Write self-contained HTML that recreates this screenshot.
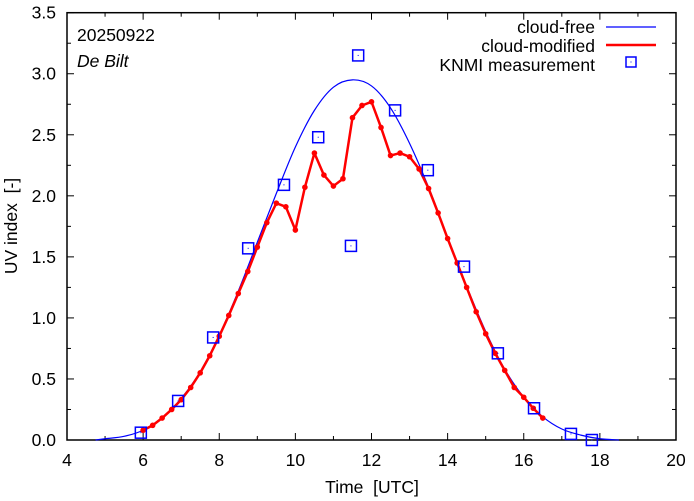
<!DOCTYPE html>
<html><head><meta charset="utf-8"><style>
html,body{margin:0;padding:0;background:#fff;}
svg{display:block;font-family:"Liberation Sans",sans-serif;}
text{white-space:pre;}
</style></head><body>
<svg id="chart" width="694" height="501">
<g id="axes"></g>
<g id="series"></g>
<text x="77" y="41" font-size="17.5">20250922</text>
<text x="77" y="67" font-size="17.5" font-style="italic">De Bilt</text>
<text x="372" y="493" font-size="17.5" text-anchor="middle">Time  [UTC]</text>
<text transform="translate(17,226) rotate(-90)" font-size="17.5" text-anchor="middle">UV index  [-]</text>
<g>
<text x="595" y="33" font-size="17.5" text-anchor="end">cloud-free</text>
<line x1="606" y1="27" x2="656" y2="27" stroke="#0000ff" stroke-width="1.2"/>
<text x="595" y="52" font-size="17.5" text-anchor="end">cloud-modified</text>
<line x1="606" y1="45" x2="656" y2="45" stroke="#ff0000" stroke-width="2.5"/>
<text x="595" y="71" font-size="17.5" text-anchor="end">KNMI measurement</text>
<rect x="626" y="57" width="10" height="10" fill="none" stroke="#0000ff" stroke-width="1.5"/>
<rect x="630.5" y="61.5" width="1" height="1" fill="#0000ff"/>
</g>
</svg>
<script>
const xTicks=[4,6,8,10,12,14,16,18,20];
const yTicks=[0.0,0.5,1.0,1.5,2.0,2.5,3.0,3.5];
const clearT=[4.75,5,5.5,6,6.5,7,7.5,8,8.5,9,9.5,10,10.5,11,11.5,12,12.5,13,13.5,14,14.5,15,15.5,16,16.5,17,17.5,18,18.5];
const clearUV=[0,0.01,0.03,0.08,0.18,0.34,0.56,0.86,1.22,1.62,2.02,2.4,2.7,2.89,2.95,2.9,2.72,2.43,2.07,1.66,1.26,0.89,0.58,0.35,0.19,0.09,0.04,0.01,0.0];
const cloudT=[6,6.25,6.5,6.75,7,7.25,7.5,7.75,8,8.25,8.5,8.75,9,9.25,9.5,9.75,10,10.25,10.5,10.75,11,11.25,11.5,11.75,12,12.25,12.5,12.75,13,13.25,13.5,13.75,14,14.25,14.5,14.75,15,15.25,15.5,15.75,16,16.25,16.5];
const cloudUV=[0.08,0.12,0.18,0.25,0.33,0.43,0.55,0.69,0.85,1.02,1.2,1.38,1.58,1.78,1.94,1.91,1.72,2.07,2.35,2.17,2.08,2.14,2.64,2.74,2.77,2.56,2.33,2.35,2.32,2.22,2.06,1.86,1.65,1.45,1.25,1.05,0.87,0.71,0.57,0.43,0.35,0.26,0.18];
const measT=[5.94,6.92,7.84,8.76,9.70,10.6,11.65,11.46,12.62,13.48,14.43,15.32,16.27,17.24,17.79];
const measUV=[0.06,0.32,0.84,1.57,2.09,2.48,3.15,1.59,2.70,2.21,1.42,0.71,0.26,0.05,0.0];

const L=67,R=676,T=12.7,B=440;
const sx=v=>L+(v-4)/16*(R-L);
const sy=v=>B-v/3.5*(B-T);
const NS="http://www.w3.org/2000/svg";
function mk(tag,attrs,parent){const e=document.createElementNS(NS,tag);for(const k in attrs)e.setAttribute(k,attrs[k]);parent.appendChild(e);return e;}
const ax=document.getElementById('axes'), se=document.getElementById('series');
const frame=mk('rect',{x:L,y:T,width:R-L,height:B-T,fill:'none',stroke:'#000','stroke-width':1.5},ax);


for(let i=0;i<xTicks.length;i++){
  const v=xTicks[i],x=sx(v);
  mk('line',{x1:x,y1:B,x2:x,y2:B-7,stroke:'#000'},ax);
  mk('line',{x1:x,y1:T,x2:x,y2:T+7,stroke:'#000'},ax);
  if(i<xTicks.length-1){const xm=sx(v+1);
    mk('line',{x1:xm,y1:B,x2:xm,y2:B-4,stroke:'#000'},ax);
    mk('line',{x1:xm,y1:T,x2:xm,y2:T+4,stroke:'#000'},ax);}
  const t=mk('text',{x:x,y:B+26,'font-size':17.5,'text-anchor':'middle'},ax);
  t.textContent=String(v);
  
  
}
for(let i=0;i<yTicks.length;i++){
  const v=yTicks[i],y=sy(v);
  mk('line',{x1:L,y1:y,x2:L+7,y2:y,stroke:'#000'},ax);
  mk('line',{x1:R,y1:y,x2:R-7,y2:y,stroke:'#000'},ax);
  if(i<yTicks.length-1){const ym=sy(v+0.25);
    mk('line',{x1:L,y1:ym,x2:L+4,y2:ym,stroke:'#000'},ax);
    mk('line',{x1:R,y1:ym,x2:R-4,y2:ym,stroke:'#000'},ax);}
  const t=mk('text',{x:L-11,y:y+6,'font-size':17.5,'text-anchor':'end'},ax);
  t.textContent=v.toFixed(1);
  
  
}
const P=clearT.map((t,i)=>[sx(t),sy(clearUV[i])]);
let d='M'+P[0][0]+','+P[0][1];
for(let i=0;i<P.length-1;i++){
  const p0=P[Math.max(0,i-1)],p1=P[i],p2=P[i+1],p3=P[Math.min(P.length-1,i+2)];
  d+=' C'+(p1[0]+(p2[0]-p0[0])/6)+','+(p1[1]+(p2[1]-p0[1])/6)+' '+(p2[0]-(p3[0]-p1[0])/6)+','+(p2[1]-(p3[1]-p1[1])/6)+' '+p2[0]+','+p2[1];
}
const cf=mk('path',{d:d,fill:'none',stroke:'#0000ff','stroke-width':1.2},se);


const cm=mk('polyline',{points:cloudT.map((t,i)=>sx(t)+','+sy(cloudUV[i])).join(' '),fill:'none',stroke:'#ff0000','stroke-width':2.5,'stroke-linejoin':'round'},se);


for(let i=0;i<cloudT.length;i++){
  const c=mk('circle',{cx:sx(cloudT[i]),cy:sy(cloudUV[i]),r:2.8,fill:'#ff0000'},se);
  
  
}
for(let i=0;i<measT.length;i++){
  const x=sx(measT[i]),y=sy(measUV[i]);
  const r=mk('rect',{x:x-5.5,y:y-5.5,width:11,height:11,fill:'none',stroke:'#0000ff','stroke-width':1.5},se);
  
  
  mk('rect',{x:x-0.5,y:y-0.5,width:1,height:1,fill:'#0000ff'},se);
}
</script>
</body></html>
